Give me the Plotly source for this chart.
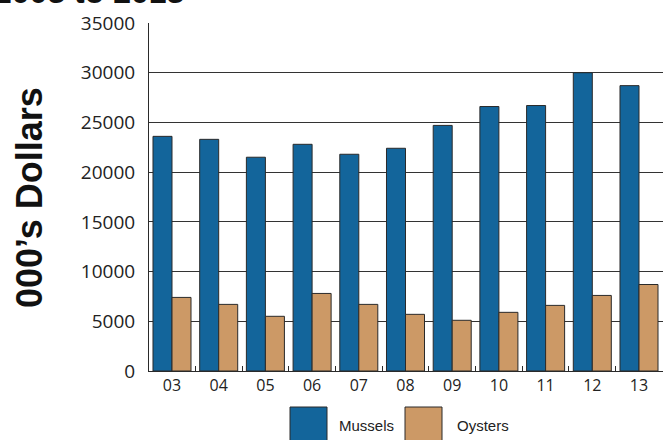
import plotly.graph_objects as go

years = ["03", "04", "05", "06", "07", "08", "09", "10", "11", "12", "13"]
mussels = [23600, 23300, 21500, 22800, 21800, 22400, 24700, 26600, 26700, 30000, 28700]
oysters = [7400, 6700, 5500, 7800, 6700, 5700, 5100, 5900, 6600, 7600, 8700]
y_ticks = [0, 5000, 10000, 15000, 20000, 25000, 30000, 35000]

W, H = 663, 440
L, R, T, B = 149, 0, 23, 69
PW, PH = W - L - R, H - T - B

def px(x):
    return (x - L) / PW

def py(y):
    return (H - B - y) / PH

BLUE = "#13659B"
TAN = "#CC9966"
EDGE = "#2a2a2a"

fig = go.Figure()
fig.add_trace(go.Bar(x=years, y=mussels, name="Mussels", marker=dict(color=BLUE, line=dict(color=EDGE, width=1))))
fig.add_trace(go.Bar(x=years, y=oysters, name="Oysters", marker=dict(color=TAN, line=dict(color=EDGE, width=1))))

spacing = 46.7
start = -(172 - L) / spacing
end = start + PW / spacing

fig.update_layout(
    width=W, height=H,
    margin=dict(l=L, r=R, t=T, b=B, pad=0),
    paper_bgcolor="white", plot_bgcolor="white",
    barmode="group", bargap=0.186, bargroupgap=0,
    showlegend=False,
    font=dict(family="Liberation Sans, Arial, sans-serif", color="#222"),
    xaxis=dict(
        type="category", range=[start, end],
        tickson="boundaries", ticks="inside", ticklen=5, tickcolor=EDGE, tickwidth=1,
        showgrid=False, showline=True, linecolor=EDGE, linewidth=1,
        tickfont=dict(size=16, family="Open Sans, Liberation Sans, sans-serif", color="#222"),
        ticklabelstandoff=0,
    ),
    yaxis=dict(
        range=[0, 35000], tickvals=y_ticks, ticktext=[str(v) for v in y_ticks],
        showgrid=True, gridcolor="#333", gridwidth=1,
        showline=True, linecolor=EDGE, linewidth=1, zeroline=False,
        ticks="", tickfont=dict(size=19, family="Open Sans, Liberation Sans, sans-serif", color="#222"),
        ticklabelstandoff=9,
    ),
)

# y-axis title
fig.add_annotation(
    text="<b>000’s Dollars</b>", textangle=-90, showarrow=False,
    xref="paper", yref="paper", x=px(29), y=py(198), xanchor="center", yanchor="middle",
    font=dict(size=36, family="Liberation Sans, Arial, sans-serif", color="#111"),
)

# partially visible title
fig.add_annotation(
    text="<b>2003 to 2013</b>", showarrow=False,
    xref="paper", yref="paper", x=px(186), y=py(12), xanchor="right", yanchor="bottom",
    font=dict(size=32, family="Liberation Sans, Arial, sans-serif", color="#111"),
)

# legend
for x0, x1, col, label, tx in [(290, 327, BLUE, "Mussels", 337), (405, 442, TAN, "Oysters", 455)]:
    fig.add_shape(type="rect", xref="paper", yref="paper",
                  x0=px(x0), x1=px(x1), y0=py(441), y1=py(407),
                  fillcolor=col, line=dict(color=EDGE, width=1))
    fig.add_annotation(text=label, showarrow=False, xref="paper", yref="paper",
                       x=px(tx), y=py(425), xanchor="left", yanchor="middle",
                       font=dict(size=15, family="Liberation Sans, Arial, sans-serif", color="#222"))

fig.write_html("out.html", config={"displayModeBar": False},
               post_script="document.body.style.margin='0';document.body.style.overflow='hidden';")
